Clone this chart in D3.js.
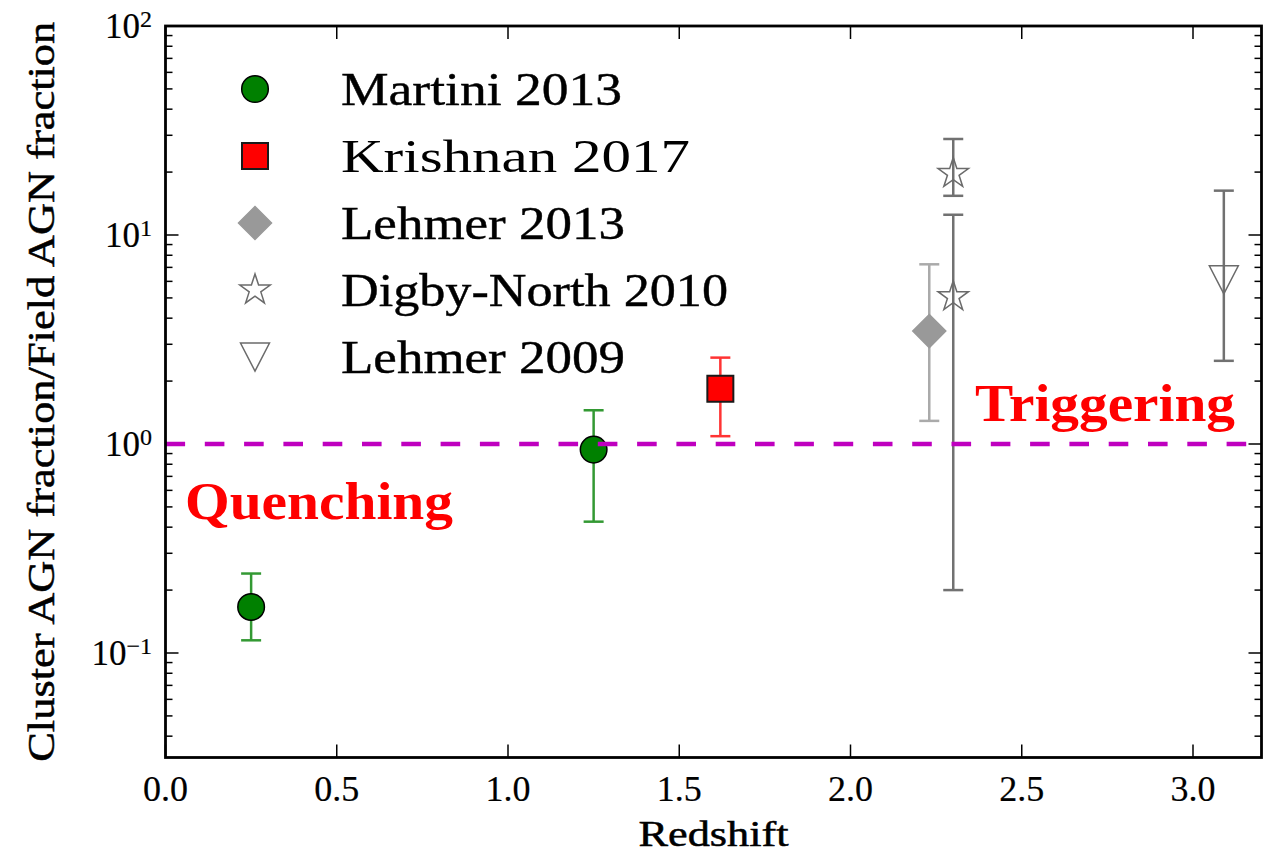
<!DOCTYPE html>
<html>
<head>
<meta charset="utf-8">
<script src="https://cdn.jsdelivr.net/npm/d3@7"></script>
<style>
  body { margin: 0; background: #fff; }
  text { font-family: 'Liberation Serif', 'DejaVu Serif', serif; }
</style>
</head>
<body>
<div id="chart"></div>
<script>
// values (redshift, ratio, lower / upper error bar ends)
const martiniZ = [0.25, 1.25]
const martiniF = [0.166, 0.94]
const martiniLo = [0.115, 0.425]
const martiniHi = [0.24, 1.45]

const krishnanZ = [1.62]
const krishnanF = [1.84]
const krishnanLo = [1.09]
const krishnanHi = [2.59]

const lehmer13Z = [2.23]
const lehmer13F = [3.47]
const lehmer13Lo = [1.29]
const lehmer13Hi = [7.24]

const digbyZ = [2.30, 2.30]
const digbyF = [19.7, 5.07]
const digbyLo = [15.4, 0.20]
const digbyHi = [28.8, 12.5]

const lehmer09Z = [3.09]
const lehmer09F = [6.1]
const lehmer09Lo = [2.5]
const lehmer09Hi = [16.3]

const legendNames = ['Martini 2013', 'Krishnan 2017', 'Lehmer 2013', 'Digby-North 2010', 'Lehmer 2009']
const xTicks = [0, 0.5, 1.0, 1.5, 2.0, 2.5, 3.0]
const yTicks = [0.1, 1, 10, 100]
const yTickExp = ['\u22121', '0', '1', '2']

class errorChart {
  constructor(_parentElement) {
    this.parentElement = _parentElement
    this.initVis()
  }

  initVis() {
    const vis = this

    vis.WIDTH = 1263
    vis.HEIGHT = 856

    vis.svg = d3.select(vis.parentElement).append('svg')
      .attr('width', vis.WIDTH)
      .attr('height', vis.HEIGHT)

    vis.x = d3.scaleLinear().domain([0, 3.2]).range([165.5, 1261.5])
    vis.y = d3.scaleLog().domain([Math.pow(10, -1.5), 100]).range([757.5, 26])

    vis.wrangleData()
  }

  wrangleData() {
    const vis = this
    const pack = (z, f, lo, hi) => z.map((d, i) => ({ z: d, f: f[i], lo: lo[i], hi: hi[i] }))

    vis.series = [
      { data: pack(martiniZ, martiniF, martiniLo, martiniHi), shape: 'circle', fill: '#008000', stroke: '#000', bar: '#339933' },
      { data: pack(krishnanZ, krishnanF, krishnanLo, krishnanHi), shape: 'square', fill: '#ff0000', stroke: '#1a1a1a', bar: '#ff3333' },
      { data: pack(lehmer13Z, lehmer13F, lehmer13Lo, lehmer13Hi), shape: 'diamond', fill: '#999999', stroke: '#999999', bar: '#aaaaaa' },
      { data: pack(digbyZ, digbyF, digbyLo, digbyHi), shape: 'star', fill: 'none', stroke: '#6b6b6b', bar: '#717171' },
      { data: pack(lehmer09Z, lehmer09F, lehmer09Lo, lehmer09Hi), shape: 'tri', fill: 'none', stroke: '#6b6b6b', bar: '#717171' }
    ]
    // legend text widths measured on the figure
    vis.legendWidths = [281, 349, 284, 387, 284]
    vis.updateVis()
  }

  // marker outline centred on 0,0
  markerPath(shape) {
    if (shape == 'circle') return d3.symbol(d3.symbolCircle, Math.PI * 13.3 * 13.3)()
    if (shape == 'square') return 'M-13,-13L13,-13L13,13L-13,13Z'
    if (shape == 'diamond') return 'M0,-16.5L16.5,0L0,16.5L-16.5,0Z'
    if (shape == 'tri') return 'M-14.5,-14L14.5,-14L0,14Z'
    const pts = d3.range(10).map(i => {
      const a = -Math.PI / 2 + i * Math.PI / 5
      const r = i % 2 == 0 ? 16 : 16 * 0.381966
      return [r * Math.cos(a), r * Math.sin(a)]
    })
    return 'M' + pts.join('L') + 'Z'
  }

  updateVis() {
    const vis = this
    const x0 = vis.x.range()[0], x1 = vis.x.range()[1]
    const y0 = vis.y.range()[0], y1 = vis.y.range()[1]

    // ticks, drawn inward on all four sides
    const ticks = vis.svg.append('g').attr('stroke', '#000').attr('stroke-width', 1.5)
    xTicks.forEach(t => {
      ticks.append('line').attr('x1', vis.x(t)).attr('x2', vis.x(t)).attr('y1', y0).attr('y2', y0 - 13)
      ticks.append('line').attr('x1', vis.x(t)).attr('x2', vis.x(t)).attr('y1', y1).attr('y2', y1 + 13)
    })
    const minor = []
    for (let k = -2; k <= 1; k++) {
      for (let m = 2; m <= 9; m++) {
        const v = m * Math.pow(10, k)
        if (v > vis.y.domain()[0] && v < 100) minor.push(v)
      }
    }
    minor.forEach(v => {
      ticks.append('line').attr('x1', x0).attr('x2', x0 + 7).attr('y1', vis.y(v)).attr('y2', vis.y(v))
      ticks.append('line').attr('x1', x1).attr('x2', x1 - 7).attr('y1', vis.y(v)).attr('y2', vis.y(v))
    })
    yTicks.forEach(v => {
      ticks.append('line').attr('x1', x0).attr('x2', x0 + 13).attr('y1', vis.y(v)).attr('y2', vis.y(v))
      ticks.append('line').attr('x1', x1).attr('x2', x1 - 13).attr('y1', vis.y(v)).attr('y2', vis.y(v))
    })

    // tick labels
    vis.svg.append('g').selectAll('text')
      .data(xTicks)
      .enter()
      .append('text')
      .attr('x', d => vis.x(d))
      .attr('y', 801)
      .attr('text-anchor', 'middle')
      .attr('font-size', 35)
      .attr('stroke', '#000').attr('stroke-width', 0.2)
      .attr('textLength', 45).attr('lengthAdjust', 'spacingAndGlyphs')
      .text(d => d3.format('.1f')(d))

    const yl = vis.svg.append('g').selectAll('text')
      .data(yTicks)
      .enter()
      .append('text')
      .attr('x', 152)
      .attr('y', d => vis.y(d) + 12)
      .attr('text-anchor', 'end')
      .attr('font-size', 35)
      .attr('stroke', '#000').attr('stroke-width', 0.2)
    yl.append('tspan').text('10')
    yl.append('tspan').attr('dy', -11).attr('font-size', 24).text((d, i) => yTickExp[i])

    // error bars and markers
    vis.series.forEach(s => {
      const g = vis.svg.append('g')
      s.data.forEach(d => {
        const cx = vis.x(d.z)
        g.append('line').attr('x1', cx).attr('x2', cx).attr('y1', vis.y(d.lo)).attr('y2', vis.y(d.hi))
          .attr('stroke', s.bar).attr('stroke-width', 2.5)
        ;[d.lo, d.hi].forEach(v => {
          g.append('line').attr('x1', cx - 10).attr('x2', cx + 10).attr('y1', vis.y(v)).attr('y2', vis.y(v))
            .attr('stroke', s.bar).attr('stroke-width', 2.5)
        })
      })
      g.selectAll('path')
        .data(s.data)
        .enter()
        .append('path')
        .attr('d', vis.markerPath(s.shape))
        .attr('transform', d => `translate(${vis.x(d.z)},${vis.y(d.f)})`)
        .attr('fill', s.fill)
        .attr('stroke', s.stroke)
        .attr('stroke-width', s.shape == 'square' ? 2 : 1.5)
    })

    // unity line
    vis.svg.append('line')
      .attr('x1', x0).attr('x2', x1)
      .attr('y1', vis.y(1)).attr('y2', vis.y(1))
      .attr('stroke', '#bf00bf')
      .attr('stroke-width', 4.5)
      .attr('stroke-dasharray', '19.6,19.7')

    // spines
    vis.svg.append('rect')
      .attr('x', x0).attr('y', y1)
      .attr('width', x1 - x0).attr('height', y0 - y1)
      .attr('fill', 'none')
      .attr('stroke', '#000')
      .attr('stroke-width', 2.8)

    // legend
    const leg = vis.svg.append('g')
    legendNames.forEach((name, i) => {
      const ly = 89 + i * 67
      const s = vis.series[i]
      leg.append('path')
        .attr('d', vis.markerPath(s.shape))
        .attr('transform', `translate(255,${ly})`)
        .attr('fill', s.fill == 'none' ? '#fff' : s.fill)
        .attr('stroke', s.stroke)
        .attr('stroke-width', s.shape == 'square' ? 2 : 1.5)
      leg.append('text')
        .attr('x', 341)
        .attr('y', ly + 16)
        .attr('font-size', 46)
        .attr('stroke', i == 1 ? 'none' : '#000')
        .attr('stroke-width', 0.4)
        .attr('textLength', vis.legendWidths[i]).attr('lengthAdjust', 'spacingAndGlyphs')
        .text(name)
    })

    // annotations
    vis.svg.append('text')
      .attr('x', 185).attr('y', 519)
      .attr('font-size', 52).attr('font-weight', 'bold')
      .attr('fill', '#ff0000')
      .attr('textLength', 268).attr('lengthAdjust', 'spacingAndGlyphs')
      .text('Quenching')
    vis.svg.append('text')
      .attr('x', 975).attr('y', 421)
      .attr('font-size', 52).attr('font-weight', 'bold')
      .attr('fill', '#ff0000')
      .attr('textLength', 260).attr('lengthAdjust', 'spacingAndGlyphs')
      .text('Triggering')

    // axis titles
    vis.svg.append('text')
      .attr('x', (x0 + x1) / 2).attr('y', 846)
      .attr('text-anchor', 'middle')
      .attr('font-size', 36)
      .attr('stroke', '#000').attr('stroke-width', 0.5)
      .attr('textLength', 150).attr('lengthAdjust', 'spacingAndGlyphs')
      .text('Redshift')
    vis.svg.append('text')
      .attr('transform', `translate(54,${(y0 + y1) / 2}) rotate(-90)`)
      .attr('text-anchor', 'middle')
      .attr('font-size', 38)
      .attr('stroke', '#000').attr('stroke-width', 0.5)
      .attr('textLength', 740).attr('lengthAdjust', 'spacingAndGlyphs')
      .text('Cluster AGN fraction/Field AGN fraction')
  }
}

new errorChart('#chart')
</script>
</body>
</html>
